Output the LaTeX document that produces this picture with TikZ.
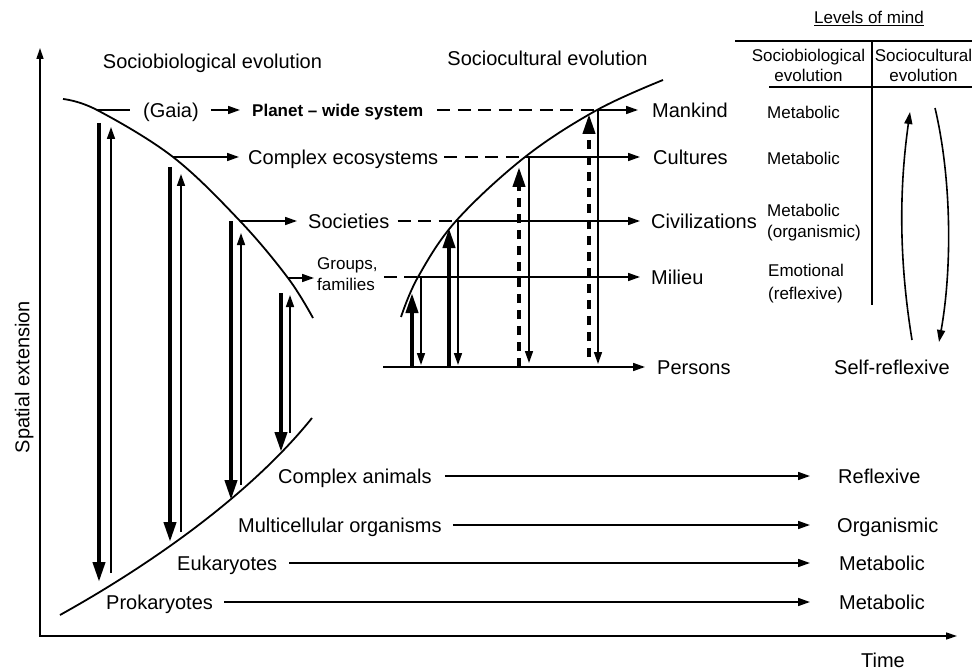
\documentclass[tikz,border=0pt]{standalone}
\usepackage{fontspec}
\setmainfont{Liberation Sans}
\usetikzlibrary{arrows.meta}

\begin{document}
\begin{tikzpicture}[x=1pt,y=-1pt,
  every node/.style={inner sep=0pt},
  t20/.style={font=\fontsize{20}{24}\selectfont, text height=14.5pt, text depth=0pt},
  t17/.style={font=\fontsize{17}{21}\selectfont, text height=12.3pt, text depth=0pt},
  tb17/.style={font=\fontsize{17}{21}\selectfont\bfseries, text height=12.3pt, text depth=0pt},
  m17/.style={font=\fontsize{17}{21}\selectfont, align=left},
  mc17/.style={font=\fontsize{17}{20}\selectfont, align=center},
  ln/.style={line width=1.6pt},
  arr/.style={line width=1.6pt, -{Triangle[length=12pt,width=8pt]}},
  bigarr/.style={line width=4pt, -{Triangle[length=20pt,width=12pt]}},
  curve/.style={line width=1.8pt},
  hdash/.style={line width=1.6pt, dash pattern=on 13pt off 7.5pt},
  vdash/.style={dash pattern=on 9pt off 7pt},
  rule/.style={line width=1.2pt},
]
\useasboundingbox (0,0) rectangle (974,671);

% axes
\coordinate (ytop) at (40,48);
\coordinate (orig) at (40,636);
\coordinate (xend) at (957,636);
\draw[line width=1.5pt, {Triangle[length=11pt,width=7pt]}-{Triangle[length=11pt,width=7pt]}] (ytop) -- (orig) -- (xend);
\node[t20] (time) at (883,660) {Time};
\node[t20, rotate=90] (spat) at (22,377) {Spatial extension};

% titles
\node[t20] (tsb) at (212.5,61) {Sociobiological evolution};
\node[t20] (tsc) at (547.5,58) {Sociocultural evolution};

% levels of mind table
\node[t17] (lom) at (869,17) {\underline{Levels of mind}};
\draw[rule] (735,41) -- (972,41);
\draw[rule] (769,87) -- (972,87);
\draw[rule] (872,41) -- (872,305);
\node[mc17] (hsb) at (808.5,65) {Sociobiological\\evolution};
\node[mc17] (hsc) at (923.5,65) {Sociocultural\\evolution};
\node[t17, anchor=west] (l1) at (767,112) {Metabolic};
\node[t17, anchor=west] (l2) at (767,158) {Metabolic};
\node[m17, anchor=west] (l3) at (767,222.5) {Metabolic\\(organismic)};
\node[m17, anchor=west] (l4) at (768,283.5) {Emotional\\[2pt](reflexive)};
\node[t20, anchor=west] (selfr) at (834,367) {Self-reflexive};
\coordinate (a1s) at (912,340);
\coordinate (a1e) at (910,112);
\coordinate (a2s) at (935,108);
\coordinate (a2e) at (939,342);
\draw[arr] (a1s) .. controls (899,260) and (899,190) .. (a1e);
\draw[arr] (a2s) .. controls (952,180) and (952,270) .. (a2e);

% sociobiological envelope
\coordinate (g1) at (97,110);
\coordinate (g2) at (173,157);
\coordinate (g3) at (240,221);
\coordinate (g4) at (288,278);
\draw[curve] plot[smooth, tension=0.6] coordinates {(63,99) (97,110) (173,157) (240,221) (288,278) (313,318)};
\coordinate (lowA) at (60,615);
\coordinate (lowB) at (312,418);
\draw[curve] (lowA) .. controls (150,565) and (250,495) .. (lowB);

\foreach \i/\xa/\ya/\yb/\xb/\yc/\yd in {1/99/123/582/111/573/127, 2/170/167/542/181/532/174, 3/231/221/500/241/485/233, 4/281/293/452/290/433/295} {
  \coordinate (dA\i) at (\xa,\ya);
  \coordinate (dB\i) at (\xa,\yb);
  \coordinate (uA\i) at (\xb,\yc);
  \coordinate (uB\i) at (\xb,\yd);
  \draw[bigarr] (dA\i) -- (dB\i);
  \draw[arr] (uA\i) -- (uB\i);
}

% sociocultural envelope
\coordinate (m1) at (597,110);
\coordinate (c1) at (525,157);
\coordinate (v1) at (456,221);
\coordinate (e1) at (418,277);
\draw[curve] plot[smooth, tension=0.6] coordinates {(401,317) (418,277) (456,221) (525,157) (597,110) (663,80)};

% Gaia row
\node[t20, anchor=west] (gaia) at (143,110) {(Gaia)};
\node[tb17, anchor=west] (planet) at (252,110) {Planet – wide system};
\node[t20, anchor=west] (mank) at (652,110) {Mankind};
\draw[ln, shorten >=13pt] (g1) -- (gaia.west);
\draw[arr, shorten <=12pt, shorten >=12pt] (gaia.east) -- (planet.west);
\draw[hdash, shorten <=14pt] (planet.east) -- (m1);
\draw[arr, shorten >=14pt] (m1) -- (mank.west);

% ecosystems row
\node[t20, anchor=west] (ceco) at (248,157) {Complex ecosystems};
\node[t20, anchor=west] (cult) at (653,157) {Cultures};
\draw[arr, shorten >=9pt] (g2) -- (ceco.west);
\draw[hdash, shorten <=6pt] (ceco.east) -- (c1);
\draw[arr, shorten >=13pt] (c1) -- (cult.west);

% societies row
\node[t20, anchor=west] (soc) at (308,221) {Societies};
\node[t20, anchor=west] (civ) at (651,221) {Civilizations};
\draw[arr, shorten >=11pt] (g3) -- (soc.west);
\draw[hdash, shorten <=8pt] (soc.east) -- (v1);
\draw[arr, shorten >=11pt] (v1) -- (civ.west);

% groups row
\node[m17, anchor=west] (grp) at (317,274.5) {Groups,\\families};
\node[t20, anchor=west] (mil) at (651,277) {Milieu};
\draw[arr, shorten >=3pt] (g4) -- (g4 -| grp.west);
\draw[hdash, shorten <=6pt] (e1 -| grp.east) -- (e1);
\draw[arr, shorten >=11pt] (e1) -- (mil.west);

% persons baseline
\coordinate (pl) at (383,367);
\node[t20, anchor=west] (pers) at (657,367) {Persons};
\draw[arr, shorten >=12pt] (pl) -- (pers.west);

% sociocultural up/down pairs
\coordinate (s1a) at (412,367); \coordinate (s1b) at (412,293);
\coordinate (s1c) at (421,277); \coordinate (s1d) at (421,365);
\coordinate (s2a) at (449,367); \coordinate (s2b) at (449,228);
\coordinate (s2c) at (458,221); \coordinate (s2d) at (458,365);
\coordinate (s3a) at (519,367); \coordinate (s3b) at (519,167);
\coordinate (s3c) at (529,157); \coordinate (s3d) at (529,363);
\coordinate (s4a) at (589,357); \coordinate (s4b) at (589,114);
\coordinate (s4c) at (598,110); \coordinate (s4d) at (598,364);
\draw[bigarr] (s1a) -- (s1b);
\draw[arr] (s1c) -- (s1d);
\draw[bigarr] (s2a) -- (s2b);
\draw[arr] (s2c) -- (s2d);
\draw[bigarr, vdash] (s3a) -- (s3b);
\draw[arr] (s3c) -- (s3d);
\draw[bigarr, vdash] (s4a) -- (s4b);
\draw[arr] (s4c) -- (s4d);

% lower evolution rows
\node[t20, anchor=west] (canim) at (278,476) {Complex animals};
\node[t20, anchor=west] (refl) at (838,476) {Reflexive};
\draw[arr, shorten <=13pt, shorten >=28pt] (canim.east) -- (refl.west);

\node[t20, anchor=west] (mcell) at (238,525) {Multicellular organisms};
\node[t20, anchor=west] (orgn) at (837,525) {Organismic};
\draw[arr, shorten <=11pt, shorten >=27pt] (mcell.east) -- (orgn.west);

\node[t20, anchor=west] (euk) at (177,563) {Eukaryotes};
\node[t20, anchor=west] (metA) at (839,563) {Metabolic};
\draw[arr, shorten <=12pt, shorten >=29pt] (euk.east) -- (metA.west);

\node[t20, anchor=west] (prok) at (106,602) {Prokaryotes};
\node[t20, anchor=west] (metB) at (839,602) {Metabolic};
\draw[arr, shorten <=11pt, shorten >=29pt] (prok.east) -- (metB.west);
\end{tikzpicture}
\end{document}
